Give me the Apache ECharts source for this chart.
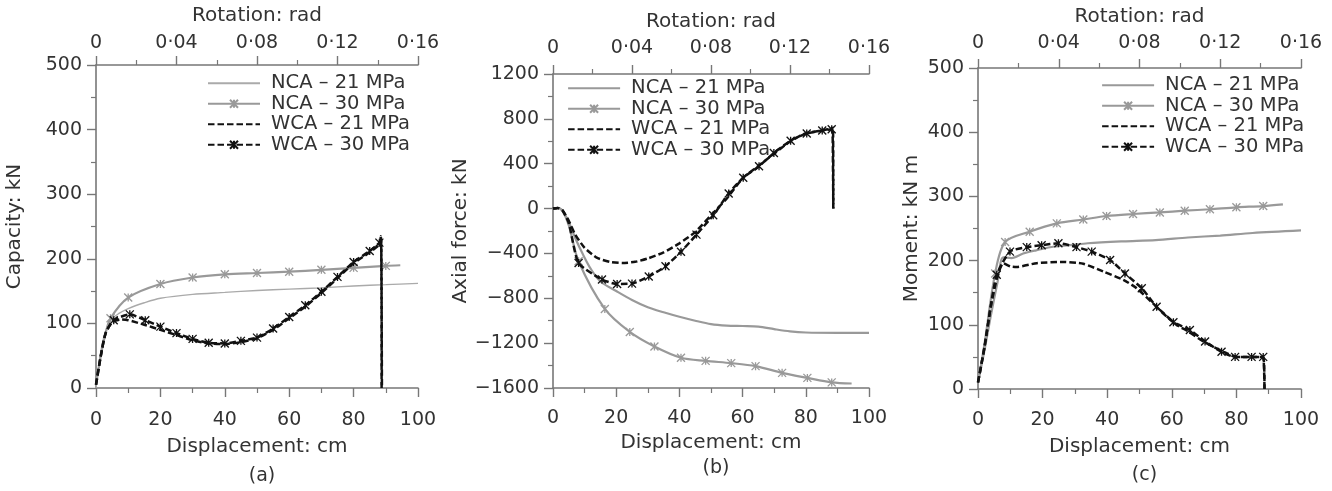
<!DOCTYPE html>
<html lang="en">
<head>
<meta charset="UTF-8">
<title>Capacity, axial force and moment</title>
<script src="https://cdn.jsdelivr.net/npm/echarts@6/dist/echarts.min.js"></script>
<style>
  html, body { margin: 0; padding: 0; background: #fff; }
  #main { width: 1332px; height: 491px; }
</style>
</head>
<body>
<div id="main"></div>
<script>
// series names (same four in every panel)
var names = ['NCA – 21 MPa', 'NCA – 30 MPa', 'WCA – 21 MPa', 'WCA – 30 MPa'];
var panelTags = ['(a)', '(b)', '(c)'];
var yNames = ['Capacity: kN', 'Axial force: kN', 'Moment: kN m'];
var yRanges = [[0, 500, 100], [-1600, 1200, 400], [0, 500, 100]];
var dispRange = [0, 100, 20];
var rotRange = [0, 0.16, 0.04];

// (a) capacity, kN  -- [displacement cm, value]
var capNCA21 = [[0,0],[1,40],[2,70],[3,88],[4.5,105],[7,115],[10,123],[15,132],[20,139],[30,145],[40,148],[50,151],[60,153],[70,155],[80,158],[90,160],[100,162]];
var capNCA30 = [[0,5],[1.5,50],[3,85],[4.5,108],[10,140],[20,161],[30,171],[40,176],[50,178],[60,180],[70,183],[80,186],[90,189],[94.5,190]];
var capWCA21 = [[0,5],[1.5,50],[3,85],[5,102],[8,106],[10,105],[15,98],[20,90],[25,82],[30,74],[35,69],[40,68],[45,71],[50,77],[55,90],[60,108],[65,126],[70,147],[75,170],[80,193],[85,210],[88,222],[88.5,234],[88.7,120],[88.7,0]];
var capWCA30 = [[0,5],[1.5,50],[3,85],[5.5,105],[10.5,114],[15.3,105],[20,95],[25,85],[30,76],[35,70],[40,69],[45,73],[50,78],[55,92],[60,110],[65,128],[70,149],[75,172],[80,195],[85,212],[88,225],[88.5,235],[88.8,0]];

// (b) axial force, kN
var axNCA21 = [[0,0],[1.5,5],[3,-20],[5,-120],[7,-260],[9.5,-410],[12,-540],[15,-650],[20,-735],[25,-815],[30,-880],[35,-925],[40,-965],[45,-1000],[50,-1030],[55,-1043],[60,-1047],[65,-1052],[70,-1075],[75,-1095],[80,-1105],[90,-1108],[100,-1108]];
var axNCA30 = [[0,0],[1.5,5],[3,-20],[5,-150],[8.1,-470],[16.4,-895],[24.3,-1100],[32.1,-1230],[40.5,-1330],[48.3,-1358],[56.4,-1378],[64.1,-1405],[72.5,-1465],[80.5,-1510],[88.2,-1550],[94.5,-1560]];
var axWCA21 = [[0,0],[1.5,5],[3,-15],[5,-110],[7,-230],[10,-350],[14,-440],[18,-475],[22,-485],[26,-475],[30,-445],[35,-390],[40,-310],[45,-210],[50,-60],[55,90],[60,270],[65,380],[70,490],[75,598],[80,672],[85,696],[88.3,715],[88.6,360],[88.7,0]];
var axWCA30 = [[0,0],[1.5,5],[3,-15],[5,-130],[8.1,-485],[15.5,-633],[20.3,-672],[25,-669],[30.3,-605],[35.6,-514],[40.5,-385],[45.4,-232],[50.7,-60],[55.6,135],[60.2,275],[65.2,378],[69.9,496],[75.2,605],[80.3,670],[85.2,696],[88.2,708],[88.6,720],[88.7,0]];

// (c) moment, kN m
var momNCA21 = [[0,10],[2,60],[4,115],[6,165],[7.8,205],[10.4,204],[14,211],[18,216],[23.6,222],[28.5,224],[34,227],[45,230],[55,232],[65,236],[75,239],[85,243],[100,247]];
var momNCA30 = [[0,10],[2,70],[5.3,180],[8.4,229],[16,245],[24.4,258],[32.6,264],[39.8,269.5],[48,272.6],[56.3,275],[64,277.7],[71.8,280],[80,283],[88.3,285],[94.4,287.7]];
var momWCA21 = [[0,10],[2,65],[4,130],[6,175],[7.8,196],[10,191],[12,190],[18.2,196],[26.4,198],[32.6,195],[38.8,183],[45,170],[49.1,157],[55.3,128],[61.5,100],[65,90],[69.8,74],[76,58],[80,50],[87.3,50],[88.3,50],[88.7,0]];
var momWCA30 = [[0,10],[2,65],[4,130],[5.8,178],[9.9,214],[15.1,221],[19.7,224],[24.9,227],[30.5,221],[35.2,214],[40.9,201],[45.5,180],[50.7,157],[55.3,128],[60.5,104],[65.6,92],[70.3,74],[75.4,58],[79.6,50],[84.7,50],[88.3,50],[88.7,0]];

var FONT = 'DejaVu Sans';
var TXT = '#333';
var AXIS = '#777';
var GRAY = '#999';
var BLACK = '#111';
var XMARK = 'path://M0,0L10,10M10,0L0,10M5,0L5,10';

// layout of the three panels
var grids = [
  { left: 96, top: 65, width: 322, height: 323 },
  { left: 553, top: 74, width: 316, height: 314 },
  { left: 978, top: 68, width: 323, height: 321 }
];
var yGap = [71, 72, 56];
var topGap = [39, 42, 41], topMargin = [12, 16, 15];
var botGap = [49, 44, 48], botMargin = [23, 21, 22];
var tagTop = [462, 454, 461];
var legendPos = [[207, 73], [567, 78], [1101, 75]];

function fmtMinus(v) { return String(v).replace('-', '\u2212'); }
function fmtRot(v) { return v === 0 ? '0' : v.toFixed(2).replace('.', '\u00b7'); }

function axisCommon() {
  return {
    axisLine: { show: true, onZero: false, lineStyle: { color: AXIS, width: 1.6 } },
    axisTick: { show: true, length: 9, lineStyle: { color: AXIS, width: 1.4 } },
    minorTick: { show: true, splitNumber: 2, length: 5, lineStyle: { color: AXIS, width: 1.2 } },
    splitLine: { show: false },
    minorSplitLine: { show: false },
    nameTextStyle: { fontFamily: FONT, fontSize: 20, color: TXT },
    axisLabel: { fontFamily: FONT, fontSize: 19, color: TXT }
  };
}

var xAxes = [], yAxes = [], series = [], legends = [], titles = [];
grids.forEach(function (g, i) {
  var bx = axisCommon();
  Object.assign(bx, {
    type: 'value', gridIndex: i, position: 'bottom',
    min: dispRange[0], max: dispRange[1], interval: dispRange[2],
    name: 'Displacement: cm', nameLocation: 'middle', nameGap: botGap[i]
  });
  bx.axisLabel.margin = botMargin[i];
  xAxes.push(bx);

  var tx = axisCommon();
  Object.assign(tx, {
    type: 'value', gridIndex: i, position: 'top',
    min: rotRange[0], max: rotRange[1], interval: rotRange[2],
    name: 'Rotation: rad', nameLocation: 'middle', nameGap: topGap[i]
  });
  tx.axisLabel.margin = topMargin[i];
  tx.axisLabel.formatter = fmtRot;
  xAxes.push(tx);

  var y = axisCommon();
  Object.assign(y, {
    type: 'value', gridIndex: i, position: 'left',
    min: yRanges[i][0], max: yRanges[i][1], interval: yRanges[i][2],
    name: yNames[i], nameLocation: 'middle', nameGap: yGap[i]
  });
  y.axisLabel.margin = 14;
  y.axisLabel.formatter = fmtMinus;
  yAxes.push(y);

  titles.push({
    text: panelTags[i], left: g.left + g.width / 2, top: tagTop[i], textAlign: 'center',
    textStyle: { fontFamily: FONT, fontSize: 19, fontWeight: 'normal', color: TXT }
  });

  var hidden = { color: 'rgba(0,0,0,0)', borderColor: 'rgba(0,0,0,0)', borderWidth: 0, opacity: 0 };
  legends.push({
    orient: 'vertical', left: legendPos[i][0], top: legendPos[i][1],
    itemWidth: 52, itemHeight: 10, itemGap: 0, padding: 0,
    selectedMode: false,
    textStyle: { fontFamily: FONT, fontSize: 19.5, lineHeight: 20.5, color: TXT, padding: [0, 0, 0, 6] },
    data: names.map(function (n, k) {
      var item = { name: n };
      if (k === 0 || k === 2) item.itemStyle = hidden;
      if (k === 0 && i > 0) item.lineStyle = { width: 2.2, color: GRAY };
      return item;
    })
  });
});

function curve(name, pts, g, st) {
  var marked = st.markFrom != null;
  var to = pts.length - (st.markEnd || 0);
  return {
    type: 'line', name: name, xAxisIndex: g * 2, yAxisIndex: g,
    data: pts.map(function (p, i) {
      return marked && i >= st.markFrom && i < to ? p : { value: p, symbol: 'none' };
    }),
    symbol: marked ? XMARK : 'none',
    symbolSize: 8,
    showSymbol: true,
    smooth: st.smooth || 0,
    lineStyle: { color: st.color, width: st.width, type: st.dash ? [6.5, 3] : 'solid' },
    itemStyle: { color: st.color, borderColor: st.color, borderWidth: 1.3 },
    emphasis: { disabled: true },
    z: st.z || 2
  };
}

var panelData = [
  [capNCA21, capNCA30, capWCA21, capWCA30],
  [axNCA21, axNCA30, axWCA21, axWCA30],
  [momNCA21, momNCA30, momWCA21, momWCA30]
];
var markFrom = [[null, 3, null, 3], [null, 4, null, 4], [null, 2, null, 3]];
var markEnd = [[0, 1, 0, 2], [0, 1, 0, 2], [0, 1, 0, 1]];

panelData.forEach(function (set, g) {
  series.push(curve(names[0], set[0], g, { color: g === 0 ? '#aaa' : GRAY, width: g === 0 ? 1.4 : 2.2, smooth: 0.3, z: 2 }));
  series.push(curve(names[1], set[1], g, { color: GRAY, width: 2.2, smooth: 0.3, markFrom: markFrom[g][1], markEnd: markEnd[g][1], z: 3 }));
  series.push(curve(names[2], set[2], g, { color: BLACK, width: 2.5, dash: true, smooth: 0.2, z: 4 }));
  series.push(curve(names[3], set[3], g, { color: BLACK, width: 2.5, dash: true, smooth: 0.2, markFrom: markFrom[g][3], markEnd: markEnd[g][3], z: 5 }));
});

var chart = echarts.init(document.getElementById('main'));
chart.setOption({
  animation: false,
  backgroundColor: '#fff',
  title: titles,
  legend: legends,
  grid: grids.map(function (g) {
    return { left: g.left, top: g.top, width: g.width, height: g.height, containLabel: false, outerBoundsMode: 'none' };
  }),
  xAxis: xAxes,
  yAxis: yAxes,
  series: series
});
</script>
</body>
</html>
